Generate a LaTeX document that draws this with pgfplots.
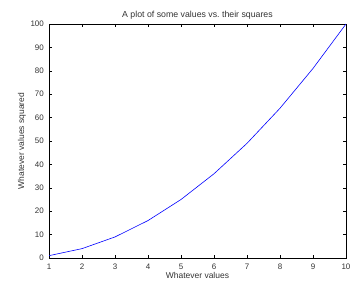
\documentclass[border=0pt]{standalone}
\usepackage{fontspec}
\setmainfont{Liberation Sans}
\usepackage{pgfplots}
\pgfplotsset{compat=1.18}
\begin{document}
\begin{tikzpicture}
\begin{axis}[
  at={(0,0)}, anchor=south west,
  scale only axis, width=297bp, height=234bp,
  xmin=1, xmax=10, ymin=0, ymax=100,
  xtick={1,...,10}, ytick={0,10,...,100},
  tick align=inside, tick pos=both,
  major tick length=3bp,
  axis line style={line width=0.6pt, black},
  every tick/.style={black, line width=0.5pt},
  /pgf/number format/assume math mode=true,
  font=\fontsize{8}{9}\selectfont,
  tick label style={font=\fontsize{8}{9}\selectfont, text=black!80},
  xticklabel style={anchor=center, yshift=-9bp, inner sep=0pt},
  yticklabel style={anchor=east, xshift=-5bp, inner sep=0pt},
  title={A plot of some values vs.\ their squares},
  title style={at={(axis description cs:0.5,1)}, anchor=center, yshift=3bp, inner sep=0pt, font=\fontsize{8.8}{10}\selectfont, text=black!80},
  xlabel={Whatever values},
  xlabel style={at={(axis description cs:0.5,0)}, anchor=center, yshift=-17bp, inner sep=0pt, font=\fontsize{8.5}{10}\selectfont, text=black!80},
  ylabel={Whatever values squared},
  ylabel style={at={(axis description cs:-0.0909,0.5)}, anchor=center, inner sep=0pt, font=\fontsize{8.5}{10}\selectfont, text=black!80},
]
\addplot[blue, line width=0.6pt, mark=none] coordinates {
(1,1) (2,4) (3,9) (4,16) (5,25) (6,36) (7,49) (8,64) (9,81) (10,100)
};
\end{axis}
\pgfresetboundingbox
\path[use as bounding box] (-49bp,-23bp) rectangle (303bp,258bp);
\end{tikzpicture}
\end{document}
